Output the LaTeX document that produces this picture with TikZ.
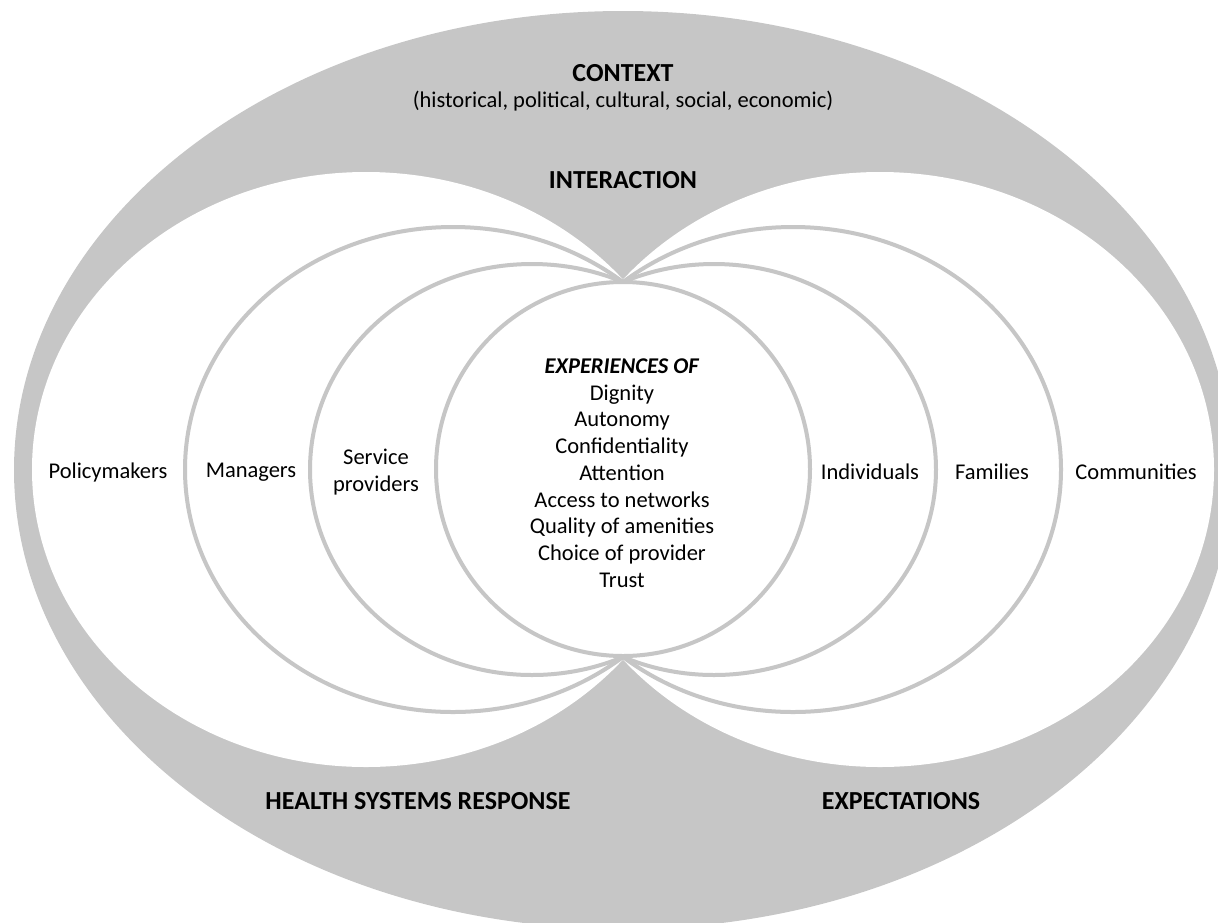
\documentclass[tikz,border=0pt]{standalone}
\usepackage{fontspec}
\setmainfont{Carlito}
\usepackage{tikz}
\usetikzlibrary{positioning}

\definecolor{ctxgray}{RGB}{198,198,198}

\begin{document}
\begin{tikzpicture}[
    x=1pt, y=-1pt,
    ring/.style={draw=ctxgray, line width=4pt},
    lbl/.style={font=\fontsize{22.5}{26.7}\selectfont, align=center, inner sep=0pt},
    head/.style={font=\fontsize{26}{30}\selectfont\bfseries, inner sep=0pt}
]
\useasboundingbox (0,0) rectangle (1218,922);

% Context
\fill[ctxgray] (623,470) ellipse [x radius=609, y radius=459];

% Health systems response and expectations
\fill[white] (366,469.5) ellipse [x radius=334, y radius=297.5];
\fill[white] (880,469.5) ellipse [x radius=334, y radius=297.5];

% Rings
\draw[ring] (453,469.5) ellipse [x radius=268, y radius=242.5];
\draw[ring] (532,469.5) ellipse [x radius=222, y radius=205.5];
\draw[ring] (793,469.5) ellipse [x radius=268, y radius=242.5];
\draw[ring] (714,469.5) ellipse [x radius=222, y radius=205.5];

% Experiences
\filldraw[ring, fill=white] (623,469) circle [radius=187];

% Labels
\node[head] (ctx) at (623,73) {CONTEXT};
\node[lbl] (ctxsub) at (623,101) {(historical, political, cultural, social, economic)};
\node[head] (inter) at (623,180) {INTERACTION};
\node[head] (hsr) at (418,801) {HEALTH SYSTEMS RESPONSE};
\node[head] (expect) at (901,801) {EXPECTATIONS};

\node[lbl] (policy) at (108,472) {Policymakers};
\node[lbl] (manag) at (251,472) {Managers};
\node[lbl] (sprov) at (376,472) {Service\\providers};
\node[lbl] (indiv) at (870,472) {Individuals};
\node[lbl] (famil) at (992,472) {Families};
\node[lbl] (commun) at (1136,472) {Communities};

\node[lbl] (exper) at (622,473) {\textbf{\textit{EXPERIENCES OF}}\\Dignity\\Autonomy\\Confidentiality\\Attention\\Access to networks\\Quality of amenities\\Choice of provider\\Trust};

\end{tikzpicture}
\end{document}
